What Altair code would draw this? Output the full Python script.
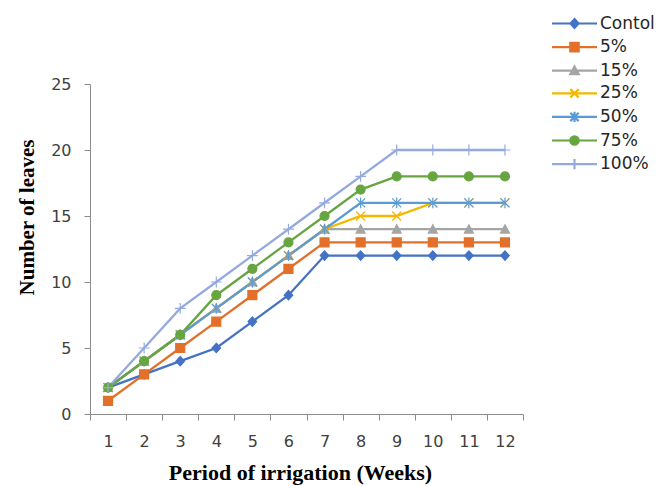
import altair as alt
import pandas as pd

weeks = [1, 2, 3, 4, 5, 6, 7, 8, 9, 10, 11, 12]
series = ["Contol", "5%", "15%", "25%", "50%", "75%", "100%"]
control = [2, 3, 4, 5, 7, 9, 12, 12, 12, 12, 12, 12]
p5 = [1, 3, 5, 7, 9, 11, 13, 13, 13, 13, 13, 13]
p15 = [2, 4, 6, 8, 10, 12, 14, 14, 14, 14, 14, 14]
p25 = [2, 4, 6, 8, 10, 12, 14, 15, 15, 16, 16, 16]
p50 = [2, 4, 6, 8, 10, 12, 14, 16, 16, 16, 16, 16]
p75 = [2, 4, 6, 9, 11, 13, 15, 17, 18, 18, 18, 18]
p100 = [2, 5, 8, 10, 12, 14, 16, 18, 20, 20, 20, 20]
values = [control, p5, p15, p25, p50, p75, p100]

colors = ["#4472C4", "#E2702A", "#A5A5A5", "#F5B800", "#5B9BD5", "#66A540", "#94AADF"]

rows = []
for name, vals in zip(series, values):
    for w, v in zip(weeks, vals):
        rows.append({"week": w, "leaves": v, "series": name, "Legend": name})
df = pd.DataFrame(rows)

# marker paths (unit square -1..1)
def markers(k):
    def s(v):
        return f"{v * k:.3f}"
    return [
        f"M0,{s(-1.05)}L{s(0.95)},0L0,{s(1.05)}L{s(-0.95)},0Z",
        f"M{s(-1)},{s(-1)}H{s(1)}V{s(1)}H{s(-1)}Z",
        f"M0,{s(-1)}L{s(1)},{s(0.85)}H{s(-1)}Z",
        f"M{s(-1)},{s(-1)}L{s(1)},{s(1)}M{s(-1)},{s(1)}L{s(1)},{s(-1)}",
        f"M{s(-1)},{s(-1)}L{s(1)},{s(1)}M{s(-1)},{s(1)}L{s(1)},{s(-1)}M0,{s(-1.2)}V{s(1.2)}",
        f"M{s(1)},0A{s(1)},{s(1)} 0 1,1 {s(-1)},0A{s(1)},{s(1)} 0 1,1 {s(1)},0Z",
        f"M{s(-1.2)},0H{s(1.2)}M0,{s(-1.2)}V{s(1.2)}",
    ]

plot_shapes = markers(1.0)
legend_shapes = ["M-2.25,0H2.25" + p for p in markers(0.42)]

x = alt.X(
    "week:Q",
    scale=alt.Scale(domain=[0.5, 12.5], nice=False, zero=False),
    axis=alt.Axis(
        values=[w / 2 for w in range(1, 26)],
        labelExpr="datum.value % 1 === 0 ? format(datum.value, 'd') : ''",
        tickOpacity={"condition": {"test": "datum.value % 1 === 0", "value": 0}, "value": 1},
        title="Period of irrigation (Weeks)",
        grid=False,
        domainColor="#8C8C8C",
        tickColor="#8C8C8C",
        tickSize=6,
        labelPadding=13,
        labelFont="DejaVu Sans",
        labelFontSize=16,
        labelColor="#404040",
        titleFont="Liberation Serif",
        titleFontSize=22,
        titleFontWeight="bold",
        titleColor="#000000",
        titleBaseline="alphabetic",
        titleX=210,
        titleY=65,
    ),
)
y = alt.Y(
    "leaves:Q",
    scale=alt.Scale(domain=[0, 25], nice=False),
    axis=alt.Axis(
        values=[0, 5, 10, 15, 20, 25],
        title="Number of leaves",
        grid=False,
        domainColor="#8C8C8C",
        tickColor="#8C8C8C",
        tickSize=6,
        labelPadding=13,
        labelFont="DejaVu Sans",
        labelFontSize=16,
        labelColor="#404040",
        titleFont="Liberation Serif",
        titleFontSize=21,
        titleFontWeight="bold",
        titleColor="#000000",
        titleBaseline="alphabetic",
        titleX=-57,
        titleY=133,
    ),
)

sdom = alt.Scale(domain=series, range=colors)

lines = alt.Chart(df).mark_line(strokeWidth=2.3).encode(
    x=x, y=y,
    color=alt.Color("series:N", scale=sdom, legend=None),
    detail="series:N",
)

points = alt.Chart(df).mark_point(filled=True, opacity=1, size=81, strokeWidth=1.2).encode(
    x=x, y=y,
    fill=alt.Fill("series:N", scale=alt.Scale(domain=series, range=colors), legend=None),
    stroke=alt.Stroke("series:N", scale=alt.Scale(domain=series, range=colors), legend=None),
    shape=alt.Shape("series:N", scale=alt.Scale(domain=series, range=plot_shapes), legend=None),
)

leg = alt.Legend(
    title=None,
    orient="none",
    legendX=473,
    legendY=-72,
    symbolSize=400,
    symbolStrokeWidth=2.2,
    rowPadding=2.6,
    labelOffset=14,
    labelFont="DejaVu Sans",
    labelFontSize=17,
    labelColor="#262626",
)

legend_layer = alt.Chart(df).mark_point(filled=True, opacity=1).encode(
    fill=alt.Fill("Legend:N", scale=alt.Scale(domain=series, range=colors), legend=leg, sort=series),
    stroke=alt.Stroke("Legend:N", scale=alt.Scale(domain=series, range=colors), legend=leg, sort=series),
    shape=alt.Shape("Legend:N", scale=alt.Scale(domain=series, range=legend_shapes), legend=leg, sort=series),
).transform_filter("false")

chart = alt.layer(lines, points, legend_layer).resolve_scale(
    fill="independent", stroke="independent", shape="independent"
).properties(
    width=433, height=330,
    autosize=alt.AutoSizeParams(type="none"),
    padding={"left": 90, "top": 84, "right": 138, "bottom": 72},
    background="white",
).configure_view(stroke=None)

chart.save("out.html", embed_options={"renderer": "svg", "actions": False})
